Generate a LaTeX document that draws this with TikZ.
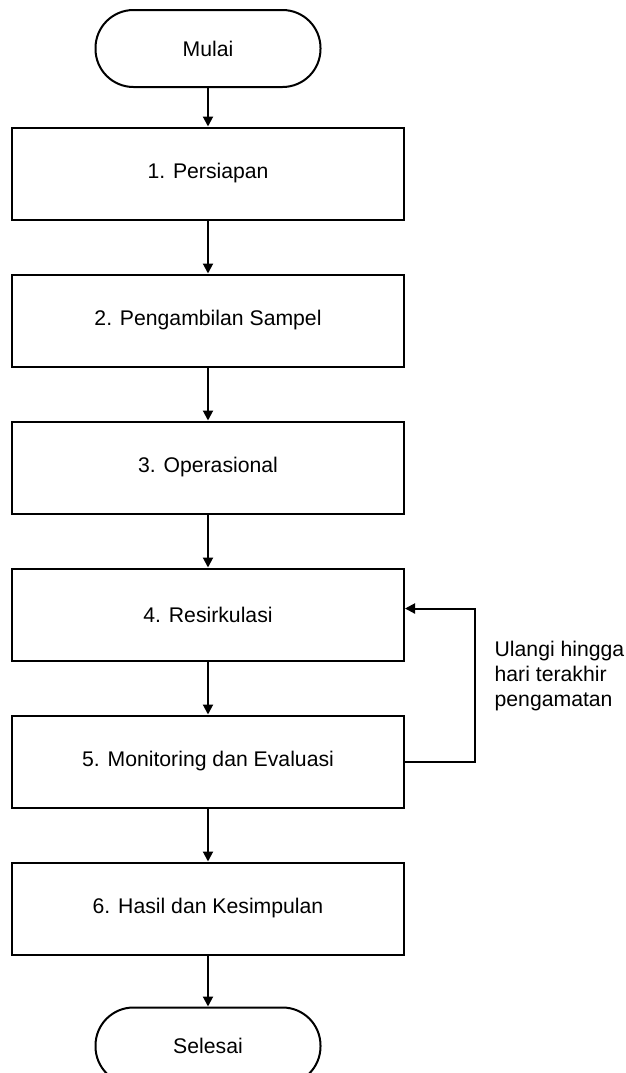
\documentclass[tikz,border=0pt]{standalone}
\usepackage{fontspec}
\setmainfont{Liberation Sans}
\usepackage{tikz}
\usetikzlibrary{ % tikz packages
    positioning,
    arrows.meta
}
\tikzset{process/.style={
    draw, line width=1pt,
    minimum width=196pt,
    minimum height=46pt,
    font=\fontsize{10.6}{12.5}\selectfont
}}
\tikzset{terminal/.style={
    draw, line width=1pt,
    rounded corners=19pt,
    minimum width=112.5pt,
    minimum height=38.5pt,
    font=\fontsize{10.6}{12.5}\selectfont
}}
\tikzset{>={Triangle[length=5pt,width=5pt]}}

\begin{document}
\begin{tikzpicture}[node distance=73.5pt,on grid,auto]
        \path[use as bounding box,clip] (0,0) rectangle (313pt,-536.5pt);

        \node[terminal] (mulai) at (104pt,-24.25pt) {Mulai};
        \node[process] (p1) [below=62.5pt of mulai] {1. Persiapan};
        \node[process] (p2) [below=of p1] {2. Pengambilan Sampel};
        \node[process] (p3) [below=of p2] {3. Operasional};
        \node[process] (p4) [below=of p3] {4. Resirkulasi};
        \node[process] (p5) [below=of p4] {5. Monitoring dan Evaluasi};
        \node[process] (p6) [below=of p5] {6. Hasil dan Kesimpulan};
        \node[terminal] (selesai) [below=68.75pt of p6] {Selesai};

        \path[->, line width=1pt]
            (mulai) edge (p1)
            (p1) edge (p2)
            (p2) edge (p3)
            (p3) edge (p4)
            (p4) edge (p5)
            (p5) edge (p6)
            (p6) edge (selesai);

        % ulangi loop
        \draw[->, line width=1pt] (p5.east) -- ++(35pt,0) |-
            node[pos=0.28, right=6pt, align=left,
                 font=\fontsize{10.6}{12.5}\selectfont] (ulang)
            {Ulangi hingga\\hari terakhir\\pengamatan}
            ([yshift=3pt]p4.east);
    \end{tikzpicture}
\end{document}
